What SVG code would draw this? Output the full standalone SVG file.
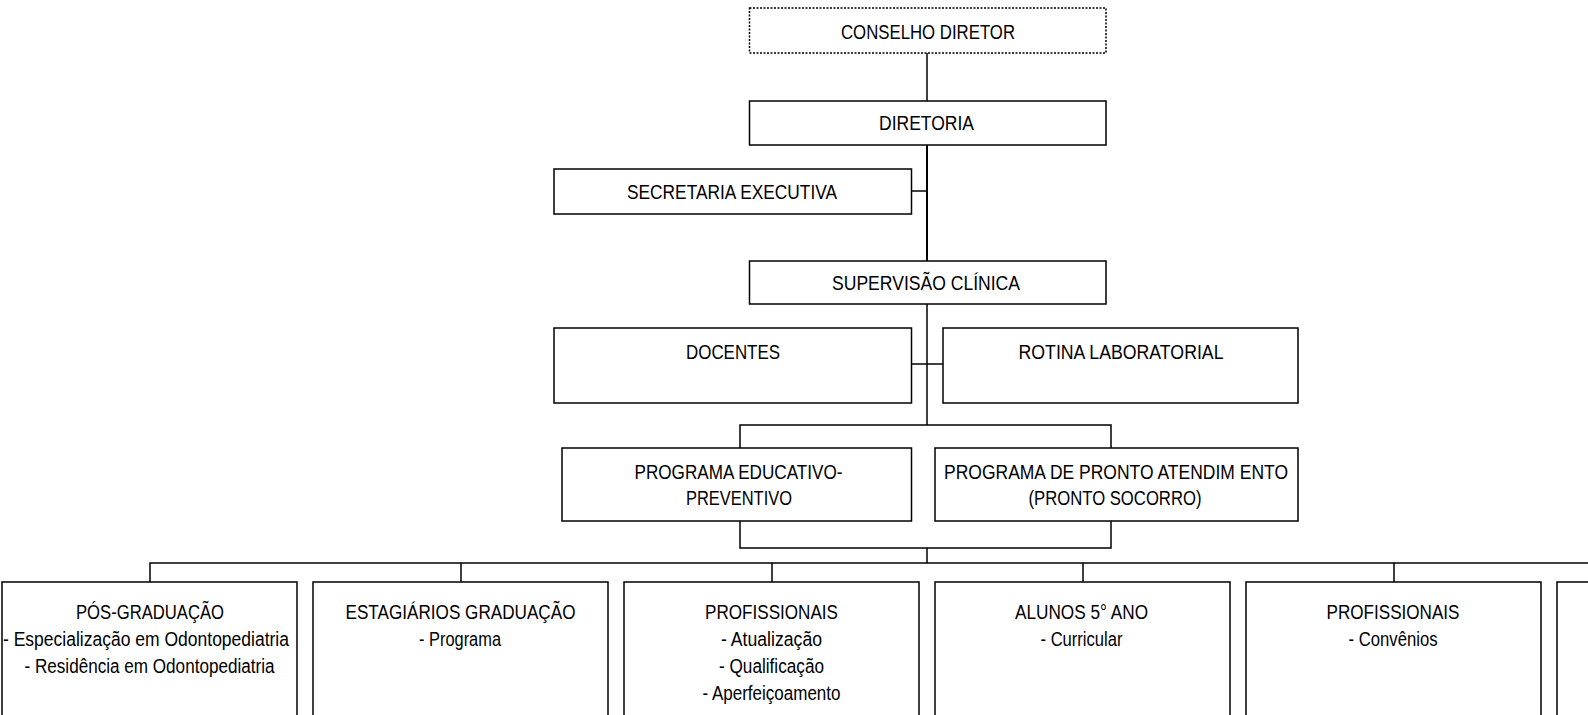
<svg xmlns="http://www.w3.org/2000/svg" width="1588" height="715" viewBox="0 0 1588 715">
  <style>
    .box { fill: #ffffff; stroke: #000000; stroke-width: 1.5; }
    .dotted { stroke-dasharray: 2 1.5; }
    .link { fill: none; stroke: #000000; stroke-width: 1.5; }
    text { font-family: "Liberation Sans Narrow", "Liberation Sans", Arial, sans-serif; font-size: 20px; fill: #000000; text-anchor: middle; }
  </style>
  <rect width="1588" height="715" fill="#ffffff"/>

  <!-- connectors -->
  <g id="connectors">
    <path class="link" d="M927 53 V101"/>
    <path class="link" d="M927 145 V261" style="stroke-width:2"/>
    <path class="link" d="M911.5 191 H927"/>
    <path class="link" d="M927 304 V425"/>
    <path class="link" d="M911.5 364 H943"/>
    <path class="link" d="M740 448 V425 H1111 V448"/>
    <path class="link" d="M740 521 V548 H1111 V521"/>
    <path class="link" d="M927 548 V563"/>
    <path class="link" d="M150 582 V563 H1588"/>
    <path class="link" d="M461 563 V582 M772 563 V582 M1083 563 V582 M1394 563 V582"/>
  </g>

  <g id="conselho-diretor">
    <rect class="box dotted" x="749.5" y="8" width="356.5" height="45"/>
    <text x="928" y="38.5" textLength="174" lengthAdjust="spacingAndGlyphs">CONSELHO DIRETOR</text>
  </g>

  <g id="diretoria">
    <rect class="box" x="749.5" y="101" width="356.5" height="44"/>
    <text x="926.5" y="129.5" textLength="95" lengthAdjust="spacingAndGlyphs">DIRETORIA</text>
  </g>

  <g id="secretaria-executiva">
    <rect class="box" x="554" y="169" width="357.5" height="45"/>
    <text x="732" y="198.5" textLength="210" lengthAdjust="spacingAndGlyphs">SECRETARIA EXECUTIVA</text>
  </g>

  <g id="supervisao-clinica">
    <rect class="box" x="749.5" y="261" width="356.5" height="43"/>
    <text x="926" y="289.5" textLength="188" lengthAdjust="spacingAndGlyphs">SUPERVISÃO CLÍNICA</text>
  </g>

  <g id="docentes">
    <rect class="box" x="554" y="328" width="357.5" height="75"/>
    <text x="733" y="358.5" textLength="94" lengthAdjust="spacingAndGlyphs">DOCENTES</text>
  </g>

  <g id="rotina-laboratorial">
    <rect class="box" x="943" y="328" width="355" height="75"/>
    <text x="1121" y="358.5" textLength="205" lengthAdjust="spacingAndGlyphs">ROTINA LABORATORIAL</text>
  </g>

  <g id="programa-educativo">
    <rect class="box" x="562" y="448" width="349.5" height="73"/>
    <text x="738.5" y="478.5" textLength="208" lengthAdjust="spacingAndGlyphs">PROGRAMA EDUCATIVO-</text>
    <text x="739" y="504.5" textLength="106" lengthAdjust="spacingAndGlyphs">PREVENTIVO</text>
  </g>

  <g id="programa-pronto-atendimento">
    <rect class="box" x="935" y="448" width="363" height="73"/>
    <text x="1116" y="478.5" textLength="344" lengthAdjust="spacingAndGlyphs">PROGRAMA DE PRONTO ATENDIM ENTO</text>
    <text x="1115" y="504.5" textLength="173" lengthAdjust="spacingAndGlyphs">(PRONTO SOCORRO)</text>
  </g>

  <g id="pos-graduacao">
    <rect class="box" x="2" y="582" width="295" height="140"/>
    <text x="150" y="618.5" textLength="148" lengthAdjust="spacingAndGlyphs">PÓS-GRADUAÇÃO</text>
    <text x="146" y="645.5" textLength="286" lengthAdjust="spacingAndGlyphs">- Especialização em Odontopediatria</text>
    <text x="149.5" y="672.5" textLength="250" lengthAdjust="spacingAndGlyphs">- Residência em Odontopediatria</text>
  </g>

  <g id="estagiarios-graduacao">
    <rect class="box" x="313" y="582" width="295" height="140"/>
    <text x="460.5" y="618.5" textLength="230" lengthAdjust="spacingAndGlyphs">ESTAGIÁRIOS GRADUAÇÃO</text>
    <text x="460" y="645.5" textLength="82" lengthAdjust="spacingAndGlyphs">- Programa</text>
  </g>

  <g id="profissionais-atualizacao">
    <rect class="box" x="624" y="582" width="295" height="140"/>
    <text x="771.5" y="618.5" textLength="133" lengthAdjust="spacingAndGlyphs">PROFISSIONAIS</text>
    <text x="771.5" y="645.5" textLength="101" lengthAdjust="spacingAndGlyphs">- Atualização</text>
    <text x="771.5" y="672.5" textLength="105" lengthAdjust="spacingAndGlyphs">- Qualificação</text>
    <text x="771.5" y="699.5" textLength="138" lengthAdjust="spacingAndGlyphs">- Aperfeiçoamento</text>
  </g>

  <g id="alunos-5-ano">
    <rect class="box" x="935" y="582" width="295" height="140"/>
    <text x="1081.5" y="618.5" textLength="133" lengthAdjust="spacingAndGlyphs">ALUNOS 5° ANO</text>
    <text x="1081.5" y="645.5" textLength="82" lengthAdjust="spacingAndGlyphs">- Curricular</text>
  </g>

  <g id="profissionais-convenios">
    <rect class="box" x="1246" y="582" width="295" height="140"/>
    <text x="1393" y="618.5" textLength="133" lengthAdjust="spacingAndGlyphs">PROFISSIONAIS</text>
    <text x="1393" y="645.5" textLength="89" lengthAdjust="spacingAndGlyphs">- Convênios</text>
  </g>

  <g id="box-6">
    <rect class="box" x="1557" y="582" width="60" height="140"/>
  </g>
</svg>
